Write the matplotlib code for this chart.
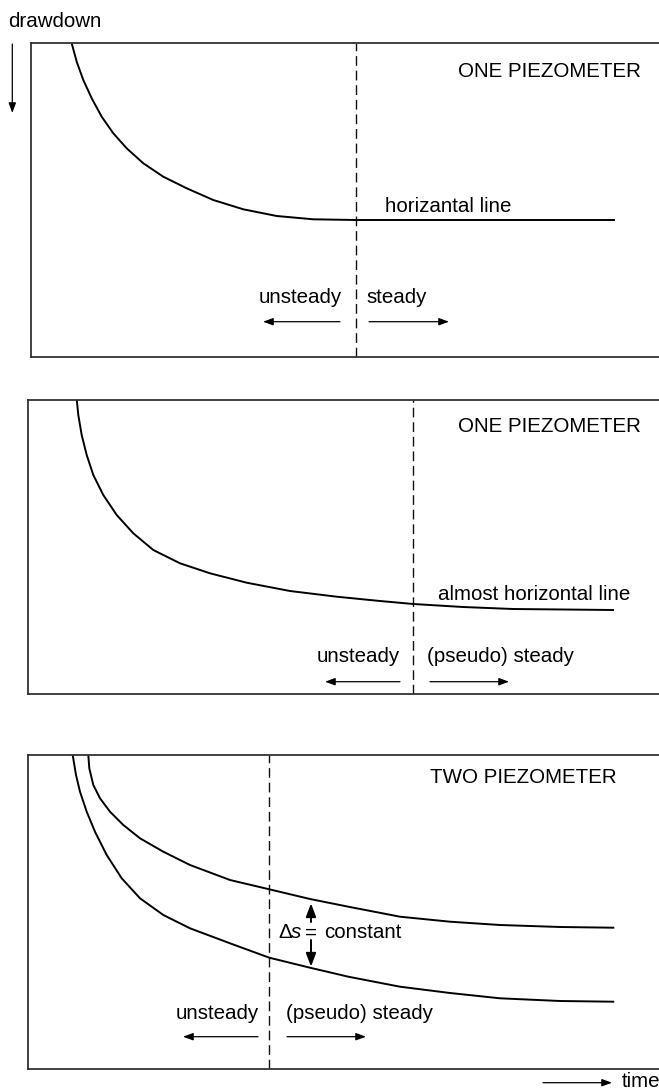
import matplotlib
matplotlib.use("Agg")
import matplotlib.pyplot as plt

plt.rcParams['font.family'] = ['Liberation Sans', 'DejaVu Sans']

# all values, in pixel units (time to the right, drawdown downward)
W, H = 659, 1090

# panel 1: one piezometer, reaches a horizontal line
p1_t = [71.7, 76.7, 83.3, 91.7, 101.7, 113.3, 126.7, 143.3, 163.3, 186.7,
        213.3, 243.3, 276.7, 313.3, 355, 614]
p1_s = [43.3, 61.7, 80, 98.3, 116.7, 133.3, 148.3, 163.3, 176.7, 188.3,
        200, 209.3, 216, 219.3, 220, 220]
p1_split = 355.7

# panel 2: one piezometer, almost horizontal line
p2_t = [76.7, 78.3, 81.7, 86.7, 93.3, 103.3, 116.7, 133.3, 153.3, 180,
        210, 246.7, 290, 336.7, 380, 413.3, 463, 513, 613]
p2_s = [399, 415, 435, 455, 475, 495, 515, 533.3, 550, 563.3,
        573.3, 582.7, 591, 596.7, 601, 604, 607, 609, 610]
p2_split = 413.3

# panel 3: two piezometers
p3a_t = [72.7, 76, 80, 86.7, 95, 106.7, 121.7, 140, 163.3, 190, 230,
         269.3, 310, 348.3, 400, 450, 500, 560, 613.3]
p3a_s = [755, 775, 791.7, 811.7, 831.7, 855, 878.3, 898.3, 915, 928.3, 943.3,
         957.7, 967.7, 976.7, 986.7, 993, 998.3, 1001, 1001.7]
p3b_t = [88.3, 89.3, 93.3, 100, 110, 123.3, 140, 163.3, 190, 230,
         269.3, 310, 348.3, 400, 450, 500, 560, 613.3]
p3b_s = [755, 768.3, 785, 798.3, 811.7, 825, 838.3, 851.7, 865, 880,
         889.3, 899, 906.7, 916.7, 921.7, 925, 927, 927.7]
p3_split = 269.3
p3_ds_t = 311
p3_ds = [903.3, 966.7]

titles = ["ONE PIEZOMETER", "ONE PIEZOMETER", "TWO PIEZOMETER"]

fig = plt.figure(figsize=(W / 100, H / 100), dpi=100)

# overlay in pixel units for the axis labels outside the panels
ax0 = fig.add_axes([0, 0, 1, 1])
ax0.set_xlim(0, W)
ax0.set_ylim(H, 0)
ax0.axis('off')

FS = 14.8


def arrow(ax, x0, y0, x1, y1, lw=0.9, hl=0.6, hw=0.22):
    ax.annotate('', xy=(x1, y1), xytext=(x0, y0),
                arrowprops=dict(arrowstyle='-|>,head_length=%g,head_width=%g' % (hl, hw),
                                mutation_scale=10, lw=lw, color='k',
                                shrinkA=0, shrinkB=0))


def panel(left, top, bottom):
    ax = fig.add_axes([left / W, 1 - bottom / H, 1 - left / W, (bottom - top) / H])
    ax.set_xlim(left, W)
    ax.set_ylim(bottom, top)
    ax.set_xticks([])
    ax.set_yticks([])
    ax.patch.set_alpha(0)
    ax.spines['right'].set_visible(False)
    for k in ['left', 'top', 'bottom']:
        ax.spines[k].set_linewidth(1.3)
        ax.spines[k].set_color('#333333')
    return ax


ax0.text(8, 27.3, "drawdown", fontsize=FS, va='baseline', ha='left')
arrow(ax0, 12.3, 44, 12.3, 113)
ax0.text(621.7, 1087, "time", fontsize=FS, va='baseline', ha='left')
arrow(ax0, 543, 1082.7, 612, 1082.7)

# panel 1
ax1 = panel(31, 43, 356.7)
ax1.plot(p1_t, p1_s, color='k', lw=1.4)
ax1.axvline(p1_split, color='#111111', lw=1.0, dashes=(7, 3.5))
ax1.text(641, 76.7, titles[0], fontsize=FS, ha='right', va='baseline')
ax1.text(385, 211.7, "horizantal line", fontsize=FS, ha='left', va='baseline')
ax1.text(342, 303, "unsteady", fontsize=FS, ha='right', va='baseline')
ax1.text(366.7, 303, "steady", fontsize=FS, ha='left', va='baseline')
arrow(ax1, 340, 321.7, 263, 321.7)
arrow(ax1, 369, 321.7, 449, 321.7)

# panel 2
ax2 = panel(28, 400, 694)
ax2.plot(p2_t, p2_s, color='k', lw=1.4)
ax2.axvline(p2_split, color='#111111', lw=1.0, dashes=(7, 3.5))
ax2.text(641, 432.3, titles[1], fontsize=FS, ha='right', va='baseline')
ax2.text(438, 599.5, "almost horizontal line", fontsize=FS, ha='left', va='baseline')
ax2.text(400, 661.7, "unsteady", fontsize=FS, ha='right', va='baseline')
ax2.text(426.7, 661.7, "(pseudo) steady", fontsize=FS, ha='left', va='baseline')
arrow(ax2, 400, 681.7, 325, 681.7)
arrow(ax2, 430, 681.7, 509, 681.7)

# panel 3
ax3 = panel(28, 755, 1068.7)
ax3.plot(p3a_t, p3a_s, color='k', lw=1.4)
ax3.plot(p3b_t, p3b_s, color='k', lw=1.4)
ax3.axvline(p3_split, color='#111111', lw=1.0, dashes=(7, 3.5))
ax3.text(617, 783.3, titles[2], fontsize=FS, ha='right', va='baseline')
ax3.text(278, 938.3, "\u0394", fontsize=FS, ha='left', va='baseline')
ax3.text(291, 938.3, "s", fontsize=FS, ha='left', va='baseline', style='italic')
ax3.text(p3_ds_t, 938.3, "=", fontsize=FS, ha='center', va='baseline')
ax3.text(324, 938.3, "constant", fontsize=FS, ha='left', va='baseline')
arrow(ax3, p3_ds_t, 922, p3_ds_t, p3_ds[0], lw=1.4, hl=0.8, hw=0.3)
arrow(ax3, p3_ds_t, 940, p3_ds_t, p3_ds[1], lw=1.4, hl=0.8, hw=0.3)
ax3.text(259, 1019.3, "unsteady", fontsize=FS, ha='right', va='baseline')
ax3.text(286, 1019.3, "(pseudo) steady", fontsize=FS, ha='left', va='baseline')
arrow(ax3, 258, 1036.7, 183, 1036.7)
arrow(ax3, 287, 1036.7, 366, 1036.7)

fig.savefig("out.png", dpi=100)
